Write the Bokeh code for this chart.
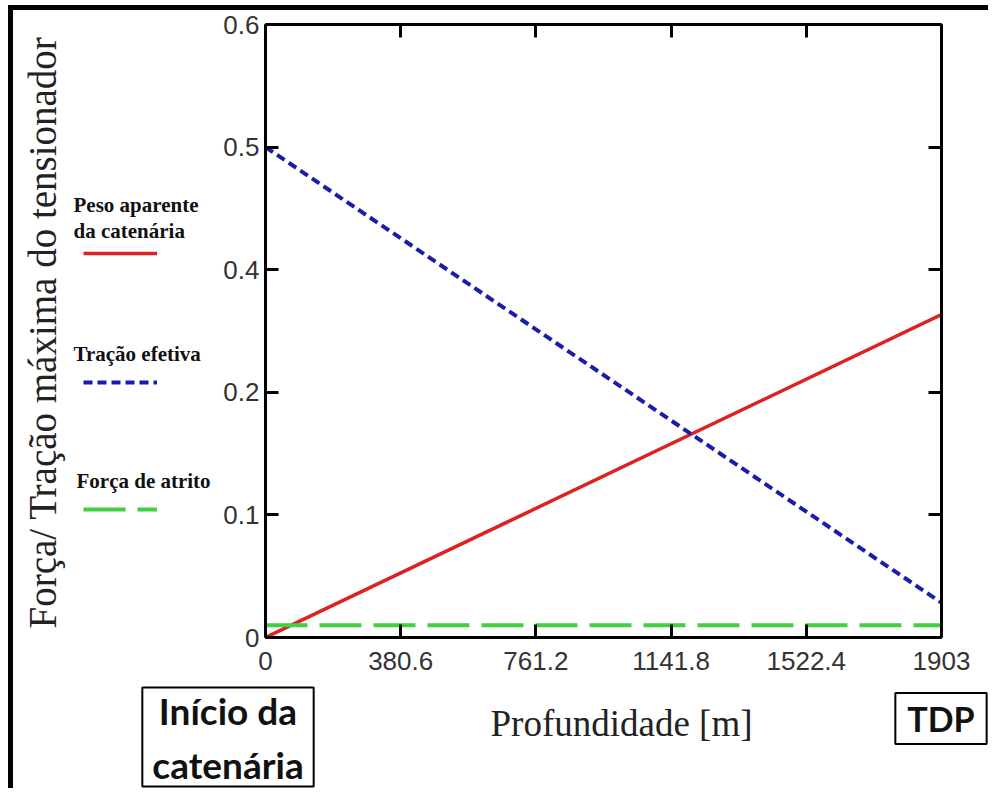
import numpy as np
from bokeh.plotting import figure
from bokeh.models import Range1d, LinearAxis, FixedTicker, Label, Legend, LegendItem
from bokeh.embed import file_html
from bokeh.resources import INLINE

# ---------------- data ----------------
depth = [0, 1903]
peso_aparente = [0.0, 0.316]
tracao_efetiva = [0.48, 0.034]
forca_atrito = [0.012, 0.012]

x_ticks = [0, 380.6, 761.2, 1141.8, 1522.4, 1903]
x_tick_labels = ["0", "380.6", "761.2", "1141.8", "1522.4", "1903"]
y_ticks = [0, 0.12, 0.24, 0.36, 0.48, 0.6]
y_tick_labels = ["0", "0.1", "0.2", "0.4", "0.5", "0.6"]

series_names = ["Peso aparente\nda catenária", "Tração efetiva", "Força de atrito"]
x_label = "Profundidade [m]"
y_label = "Força/ Tração máxima do tensionador"
start_label = "Início da\ncatenária"
end_label = "TDP"

X_MAX, Y_MAX = 1903, 0.6
PAGE_W, PAGE_H = 993, 793

# ---------------- layout (page pixels) ----------------
OFF_X, OFF_Y = 13, 10               # canvas origin on the page (after CSS margin + border)
FL, FR, FT, FB = 265, 941, 24, 637  # frame edges on the page

styles = dict(red=dict(line_color="#dd2222", line_width=3.5),
              blue=dict(line_color="#1c1cac", line_width=4, line_dash="9 5"),
              green=dict(line_color="#40d040", line_width=4, line_dash="42 12"))
series = [(peso_aparente, "red"), (tracao_efetiva, "blue"), (forca_atrito, "green")]

# ---------------- main chart ----------------
p = figure(width=PAGE_W - OFF_X, height=PAGE_H - OFF_Y,
           x_range=Range1d(0, X_MAX), y_range=Range1d(0, Y_MAX),
           x_axis_type=None, y_axis_type=None, output_backend="svg", toolbar_location=None,
           min_border_left=FL - OFF_X, min_border_right=PAGE_W - FR,
           min_border_top=FT - OFF_Y, min_border_bottom=PAGE_H - FB)
p.outline_line_color = None
p.background_fill_color = "white"
p.border_fill_color = "white"
p.styles = {"border-left": "5px solid black", "border-top": "5px solid black",
            "margin-left": "8px", "margin-top": "5px"}


def make_axis(ticks, labels, show):
    ax = LinearAxis(ticker=FixedTicker(ticks=ticks))
    ax.axis_line_width = 3
    ax.axis_line_color = "black"
    ax.major_tick_line_width = 3
    ax.major_tick_line_color = "black"
    ax.major_tick_in = 13
    ax.major_tick_out = 0
    ax.minor_tick_line_color = None
    ax.major_label_text_font = "Liberation Sans"
    ax.major_label_text_color = "#333333"
    if show:
        ax.major_label_overrides = {t: l for t, l in zip(ticks, labels)}
        ax.major_label_text_font_size = "26px"
    else:
        ax.major_label_overrides = {t: "" for t in ticks}
        ax.major_label_text_font_size = "0px"
        ax.major_label_standoff = 0
    return ax


bx = make_axis(x_ticks, x_tick_labels, True)
bx.major_label_standoff = 14
p.add_layout(bx, "below")
lyax = make_axis(y_ticks, y_tick_labels, True)
lyax.major_label_standoff = 6
p.add_layout(lyax, "left")
p.add_layout(make_axis(x_ticks, x_tick_labels, False), "above")
p.add_layout(make_axis(y_ticks, y_tick_labels, False), "right")

for vals, key in series:
    p.line(depth, vals, **styles[key])

# ---------------- overlay: texts, legend samples, boxes (page pixel space) ----------------
q = figure(width=PAGE_W, height=PAGE_H, x_range=Range1d(0, PAGE_W), y_range=Range1d(PAGE_H, 0),
           x_axis_type=None, y_axis_type=None, output_backend="svg", toolbar_location=None,
           min_border=0)
q.outline_line_color = None
q.background_fill_alpha = 0
q.border_fill_alpha = 0
q.styles = {"position": "absolute", "left": "0px", "top": "0px"}

legend_line_y = [253, 382, 509]
legend_text_pos = [(73, 217.5), (73, 353), (76, 480)]
for (vals, key), ly, name, (tx, ty) in zip(series, legend_line_y, series_names, legend_text_pos):
    r = q.line(depth, vals, visible=False, **styles[key])
    gh = 10
    leg = Legend(items=[LegendItem(label=" ", renderers=[r])], location=(83, PAGE_H - (ly + gh / 2)),
                 glyph_width=74, glyph_height=gh, label_height=gh, label_standoff=0,
                 padding=0, margin=0, border_line_color=None, inactive_fill_alpha=0,
                 background_fill_alpha=0, label_text_font_size="8px")
    q.add_layout(leg)
    q.add_layout(Label(x=tx, y=ty, text=name, text_align="left", text_baseline="middle",
                       text_font="Liberation Serif", text_font_style="bold",
                       text_font_size="21px", text_color="#111111", text_line_height=1.12))

q.add_layout(Label(x=42, y=332, text=y_label, angle=np.pi / 2, text_align="center",
                   text_baseline="middle", text_font="Liberation Serif",
                   text_font_size="39px", text_color="#222222"))
q.add_layout(Label(x=621, y=723, text=x_label, text_align="center",
                   text_baseline="middle", text_font="Liberation Serif",
                   text_font_size="37px", text_color="#222222"))

q.add_layout(Label(x=227.5, y=736.5, text=start_label, text_align="center",
                   text_baseline="middle", text_font="Lato", text_font_style="bold",
                   text_font_size="37px", text_color="#111111", text_line_height=1.2,
                   border_line_color="black", border_line_width=2,
                   background_fill_color="white", padding=(10, 0)))
q.add_layout(Label(x=940.5, y=718, text=end_label, text_align="center",
                   text_baseline="middle", text_font="Lato", text_font_style="bold",
                   text_font_size="34px", text_color="#111111",
                   border_line_color="black", border_line_width=2,
                   background_fill_color="white", padding=(12, 5)))

open("out.html", "w").write(file_html([p, q], INLINE))
